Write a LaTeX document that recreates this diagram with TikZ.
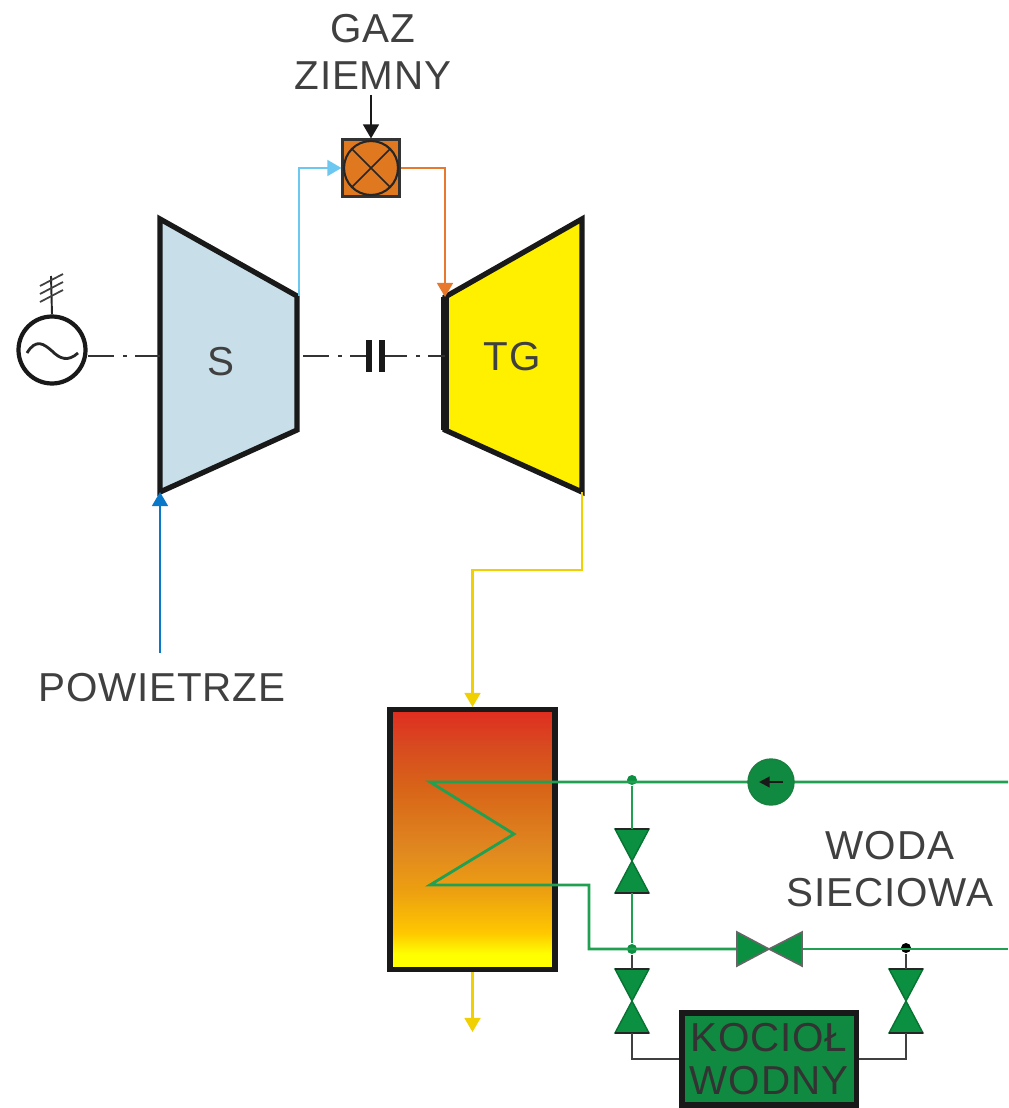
\documentclass[tikz,border=0pt]{standalone}
\usepackage{fontspec}
\setmainfont[LetterSpace=2]{Liberation Sans}
\usepackage{xcolor}
\usetikzlibrary{calc,arrows.meta}

\definecolor{compfill}{HTML}{C8DEE8}
\definecolor{turbfill}{HTML}{FFF000}
\definecolor{chamberfill}{HTML}{E07820}
\definecolor{airblue}{HTML}{0A78C8}
\definecolor{skyblue}{HTML}{6CC8F0}
\definecolor{hotorange}{HTML}{E8782C}
\definecolor{fluegas}{HTML}{F0D000}
\definecolor{netgreen}{HTML}{20A050}
\definecolor{valvegreen}{HTML}{0A9040}
\definecolor{boilergreen}{HTML}{108A40}
\definecolor{inktext}{HTML}{404040}
\definecolor{hrsga}{rgb}{1,1,0}
\definecolor{hrsgb}{rgb}{1,.784,0}
\definecolor{hrsgc}{rgb}{.929,.627,.063}
\definecolor{hrsgd}{rgb}{.878,.533,.125}
\definecolor{hrsge}{rgb}{.847,.392,.094}
\definecolor{hrsgf}{rgb}{.847,.29,.125}
\definecolor{hrsgg}{rgb}{.878,.173,.125}

\pgfdeclareverticalshading{hrsgshade}{100bp}{
  color(0bp)=(hrsga);
  color(28bp)=(hrsga);
  color(32bp)=(hrsgb);
  color(40bp)=(hrsgc);
  color(48bp)=(hrsgd);
  color(60bp)=(hrsge);
  color(68bp)=(hrsgf);
  color(75bp)=(hrsgg);
  color(100bp)=(hrsgg)}

\tikzset{
  vvalve/.pic={
    \draw[valve] (-17,-32) -- (17,-32) -- (0,0) -- cycle;
    \draw[valve] (-17,32) -- (17,32) -- (0,0) -- cycle;
    \draw[valveedge] (-17,-32) -- (17,-32);
    \draw[valveedge] (-17,32) -- (17,32);
    \coordinate (-top) at (0,-32);
    \coordinate (-bot) at (0,32);
  },
  valve/.style={draw=valvegreen!80!black,line width=0.8pt,fill=valvegreen,line join=miter},
  valveedge/.style={draw=black!85,line width=1.3pt},
  hvalve/.style={draw=black!60,line width=0.9pt,fill=valvegreen},
  label/.style={font=\fontsize{23}{26.4}\selectfont,text=inktext,align=center},
  casing/.style={draw=black!90,line width=3pt,line join=miter},
  shaft/.style={line width=1.2pt,draw=black!80,dash pattern=on 15pt off 5pt on 2pt off 5pt},
  waterpipe/.style={draw=netgreen,line width=1.6pt},
  darkpipe/.style={draw=black!75,line width=1.4pt},
  junction/.style={circle,fill=#1,inner sep=0pt,minimum size=0.2cm}
}

\begin{document}
\begin{tikzpicture}[
    x=0.02cm,y=-0.02cm,
    >={Triangle[length=8pt,width=9pt]},
    line width=1.2pt
  ]
    \useasboundingbox (0,0) rectangle (1008,1108);

    % gas turbine set
    \coordinate (compinlet) at (160,492);
    \coordinate (compoutlet) at (299,296);
    \coordinate (turbinlet) at (445,297);
    \coordinate (turboutlet) at (582,492);
    \draw[casing,fill=compfill] (160,219) -- (297,296) -- (297,430) -- (160,492) -- cycle;
    \draw[casing,fill=turbfill] (445,297) -- (582,219) -- (582,492) -- (445,430) -- cycle;
    \draw[line width=4.5pt,black!90] (445,297) -- (445,430);
    \node[label] (s) at (221,362) {S};
    \node[label] (tg) at (512,357) {TG};

    % generator
    \node[circle,draw=black!90,line width=2.4pt,minimum size=1.34cm,inner sep=0pt] (gen) at (52,350) {};
    \draw[line width=1.6pt,black!85] (27,353) .. controls (36,338) and (44,344) .. (52,351) .. controls (60,359) and (68,362) .. (78,353);
    \coordinate (mast) at (51,276);
    \draw[line width=1.1pt,black!85] (gen.north) -- (mast);
    \foreach \yy in {274,282,290}
      \draw[line width=1pt,black!75] (40,\yy+12) -- (63,\yy);

    % shaft
    \coordinate (shaftgen) at (88,356);
    \coordinate (shaftcomp) at (160,356);
    \coordinate (shaftleft) at (303,356);
    \coordinate (shaftmid) at (370,356);
    \coordinate (shaftright) at (381,356);
    \coordinate (shaftturb) at (445,356);
    \draw[shaft] (shaftgen) -- (shaftcomp);
    \draw[shaft] (shaftleft) -- (shaftmid);
    \draw[shaft] (shaftright) -- (shaftturb);
    \draw[line width=3.2pt,black!90] (369,340) -- (369,372);
    \draw[line width=3.2pt,black!90] (382,340) -- (382,372);

    % combustion chamber
    \node[draw=black!80,line width=1.2pt,fill=chamberfill,minimum size=1.14cm,inner sep=0pt] (chamber) at (371,168) {};
    \draw[line width=1.2pt,black!85] (chamber.center) circle (0.54cm);
    \draw[line width=1pt,black!85] (352,149) -- (390,187) (390,149) -- (352,187);
    \node[label] (gas) at (373,52) {GAZ\\ZIEMNY};
    \coordinate (gastop) at (371,95);
    \draw[->,black!90,line width=1.2pt] (gastop) -- (chamber.north);

    % air and gas lines
    \draw[->,skyblue,line width=1.3pt] (compoutlet) |- (chamber.west);
    \draw[->,hotorange,line width=1.3pt] (chamber.east) -| (turbinlet);
    \node[label] (air) at (162,688) {POWIETRZE};
    \draw[->,airblue,line width=1.3pt] (160,653) -- (compinlet);

    % recovery exchanger
    \node[draw=black!90,line width=3pt,shading=hrsgshade,minimum width=3.3cm,minimum height=5.2cm,inner sep=0pt] (hrsg) at (472.5,839.5) {};
    \coordinate (fluein) at (472.5,707);
    \coordinate (flueout) at (472.5,1032);
    \draw[->,fluegas,line width=1.3pt] (turboutlet) |- (472.5,570) -- (fluein);
    \draw[->,fluegas,line width=1.3pt] (hrsg.south) -- (flueout);

    % network water
    \coordinate (supply) at (1008,782);
    \coordinate (return) at (1008,949);
    \coordinate (coila) at (430,782);
    \coordinate (coilb) at (514,834);
    \coordinate (coilc) at (430,885);
    \node[junction=valvegreen] (topj) at (632,780) {};
    \node[junction=valvegreen] (botj) at (632,949) {};
    \node[junction=black] (rightj) at (906,948) {};
    \draw[waterpipe] (supply) -- (coila) -- (coilb) -- (coilc) -- (589,885) -- (589,949) -- (737,949);
    \draw[waterpipe] (802,949) -- (return);
    \node[circle,draw=netgreen!80!black,line width=0.8pt,fill=boilergreen,minimum size=0.92cm,inner sep=0pt] (pump) at (771,782) {};
    \coordinate (pumpright) at (783,782);
    \coordinate (pumpleft) at (759,782);
    \draw[-{Triangle[length=6pt,width=6pt]},black!90,line width=1.2pt] (pumpright) -- (pumpleft);

    \pic (va) at (632,861) {vvalve};
    \pic (vb) at (632,1001) {vvalve};
    \pic (vc) at (906,1001) {vvalve};
    \draw[waterpipe] (topj) -- (va-top);
    \draw[waterpipe] (va-bot) -- (botj);
    \draw[hvalve] (737,932) -- (737,966) -- (769,949) -- cycle;
    \draw[hvalve] (802,932) -- (802,966) -- (769,949) -- cycle;

    % water boiler
    \node[draw=black!90,line width=3.4pt,fill=boilergreen,minimum width=3.5cm,minimum height=1.84cm,inner sep=0pt,label,text=black!80,font=\fontsize{23}{24}\selectfont] (boiler) at (769,1059) {KOCIOŁ\\WODNY};
    \draw[darkpipe] (botj) -- (vb-top);
    \draw[darkpipe] (rightj) -- (vc-top);
    \draw[darkpipe] (vb-bot) |- (boiler.west);
    \draw[darkpipe] (vc-bot) |- (boiler.east);

    \node[label] (water) at (890,869) {WODA\\SIECIOWA};
  \end{tikzpicture}
\end{document}
